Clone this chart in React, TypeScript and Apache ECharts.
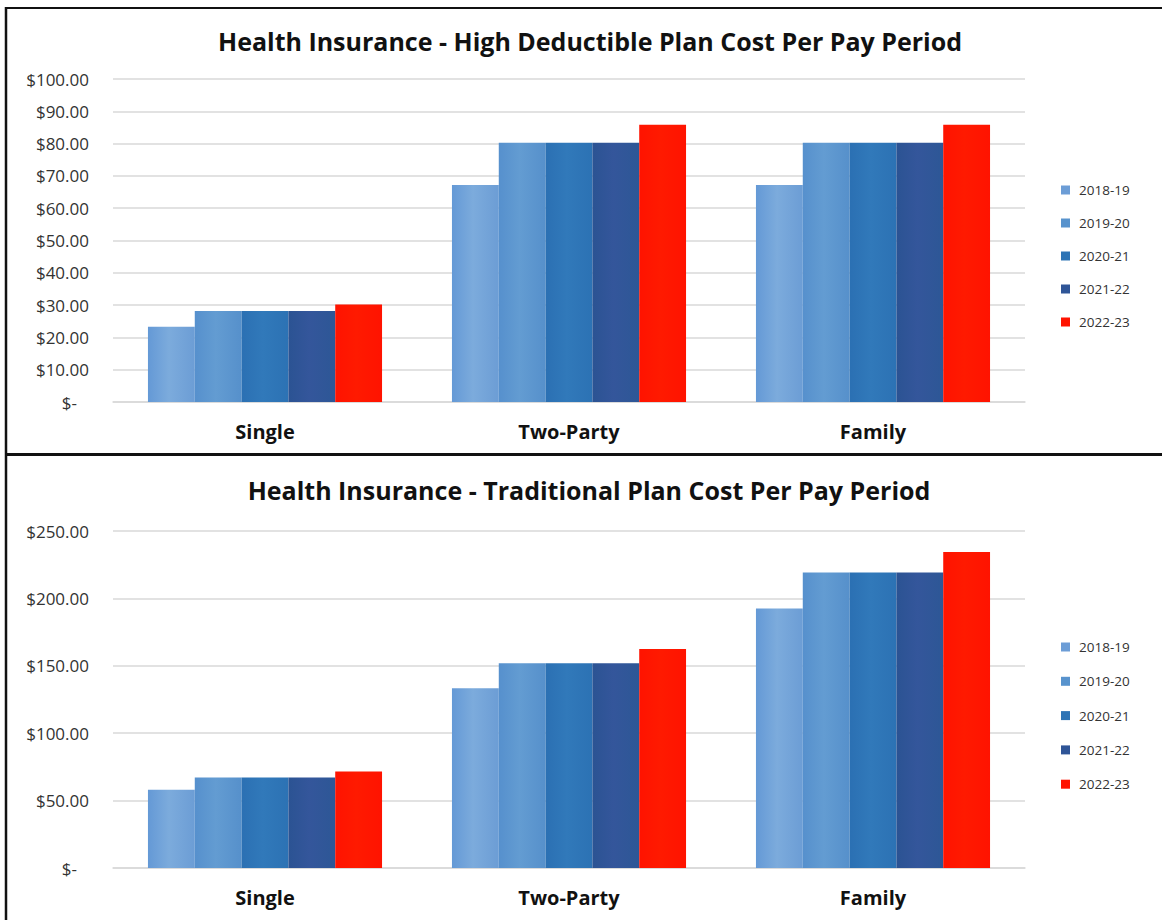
import React, { useEffect, useRef } from "react";
import * as echarts from "echarts";

// Plan tiers on the category axis
const tiers = ["Single", "Two-Party", "Family"];
// Plan years (one bar series each)
const years = ["2018-19", "2019-20", "2020-21", "2021-22", "2022-23"];

// High Deductible Plan cost per pay period, one array per plan year
const hdp2018 = [23.3, 67.2, 67.2];
const hdp2019 = [28.2, 80.3, 80.3];
const hdp2020 = [28.2, 80.3, 80.3];
const hdp2021 = [28.2, 80.3, 80.3];
const hdp2022 = [30.2, 85.8, 85.8];

// Traditional Plan cost per pay period, one array per plan year
const trad2018 = [58.0, 133.3, 192.6];
const trad2019 = [67.1, 151.9, 219.3];
const trad2020 = [67.1, 151.9, 219.3];
const trad2021 = [67.1, 151.9, 219.3];
const trad2022 = [71.6, 162.4, 234.5];

const hdpValues = [hdp2018, hdp2019, hdp2020, hdp2021, hdp2022];
const tradValues = [trad2018, trad2019, trad2020, trad2021, trad2022];

const FONT = "'Open Sans', 'Noto Sans', sans-serif";

// Horizontal shading for each year's bars
const shades: string[][] = [
  ["#6499d6", "#7cabdc", "#6c9dd5"],
  ["#5690cd", "#639cd2", "#5690cb"],
  ["#2b70b3", "#3179ba", "#2c72b4"],
  ["#2b5393", "#34569b", "#2d5796"],
  ["#ff1300", "#ff1a00", "#ff1300"],
];
const legendColors = ["#6c9dd6", "#5893cd", "#2e74b5", "#2f5597", "#ff1300"];

function fill(i: number) {
  const s = shades[i];
  return new echarts.graphic.LinearGradient(0, 0, 1, 0, [
    { offset: 0, color: s[0] },
    { offset: 0.45, color: s[1] },
    { offset: 1, color: s[2] },
  ]);
}

function moneyLabel(v: number) {
  if (v === 0) return "{d|$-}";
  return "$" + v.toFixed(2);
}

export default function App() {
  const ref = useRef<HTMLDivElement>(null);

  useEffect(() => {
    if (!ref.current) return;
    const chart = echarts.init(ref.current, null, { renderer: "svg" });

    const axisLabelStyle = {
      color: "#333333",
      fontFamily: FONT,
      fontSize: 17,
      margin: 24,
      formatter: moneyLabel,
      rich: { d: { fontFamily: FONT, fontSize: 17, color: "#333333", padding: [0, 12, 0, 0] } },
    };

    const yAxisBase = {
      type: "value" as const,
      min: 0,
      axisLine: { show: false },
      axisTick: { show: false },
      splitLine: { lineStyle: { color: "#d9d9d9", width: 1.5 } },
      axisLabel: axisLabelStyle,
    };

    const xAxisBase = {
      type: "category" as const,
      data: tiers,
      axisLine: { lineStyle: { color: "#d9d9d9", width: 1.5 } },
      axisTick: { show: false },
      axisLabel: {
        color: "#111111",
        fontFamily: FONT,
        fontWeight: "bold" as const,
        fontSize: 20,
        margin: 19,
      },
    };

    const mkSeries = (values: number[][], axisIndex: number) =>
      years.map((name, i) => ({
        name,
        type: "bar" as const,
        xAxisIndex: axisIndex,
        yAxisIndex: axisIndex,
        data: values[i],
        barGap: "0%",
        barCategoryGap: "23%",
        itemStyle: { color: fill(i) },
        emphasis: { disabled: true },
      }));

    const legendBase = {
      orient: "vertical" as const,
      left: 1056,
      itemWidth: 9,
      itemHeight: 9,
      icon: "rect",
      textStyle: { color: "#333333", fontFamily: FONT, fontSize: 13.5, padding: [0, 0, 0, 4] },
      data: years.map((name, i) => ({ name, itemStyle: { color: legendColors[i] } })),
      selectedMode: false,
    };

    chart.setOption({
      animation: false,
      backgroundColor: "#ffffff",
      title: [
        {
          text: "Health Insurance - High Deductible Plan Cost Per Pay Period",
          left: 585,
          textAlign: "center",
          top: 23,
          textStyle: { fontFamily: FONT, fontWeight: "bold", fontSize: 25, color: "#111111" },
        },
        {
          text: "Health Insurance - Traditional Plan Cost Per Pay Period",
          left: 584,
          textAlign: "center",
          top: 472,
          textStyle: { fontFamily: FONT, fontWeight: "bold", fontSize: 25, color: "#111111" },
        },
      ],
      legend: [
        { ...legendBase, top: 178, itemGap: 19 },
        { ...legendBase, top: 635, itemGap: 20.3 },
      ],
      grid: [
        { left: 113, right: 137, top: 79, height: 323 },
        { left: 113, right: 137, top: 531, height: 337 },
      ],
      xAxis: [
        { ...xAxisBase, gridIndex: 0 },
        { ...xAxisBase, gridIndex: 1 },
      ],
      yAxis: [
        { ...yAxisBase, gridIndex: 0, max: 100, interval: 10 },
        { ...yAxisBase, gridIndex: 1, max: 250, interval: 50 },
      ],
      series: [...mkSeries(hdpValues, 0), ...mkSeries(tradValues, 1)],
      graphic: [
        { type: "line", shape: { x1: 5, y1: 8, x2: 1162, y2: 8 }, style: { stroke: "#111111", lineWidth: 2 } },
        { type: "line", shape: { x1: 6, y1: 7, x2: 6, y2: 920 }, style: { stroke: "#111111", lineWidth: 2.5 } },
        { type: "line", shape: { x1: 5, y1: 454.5, x2: 1162, y2: 454.5 }, style: { stroke: "#111111", lineWidth: 3 } },
      ],
    });

    return () => chart.dispose();
  }, []);

  return (
    <div
      ref={ref}
      style={{ position: "absolute", left: 0, top: 0, width: 1162, height: 920 }}
    />
  );
}
